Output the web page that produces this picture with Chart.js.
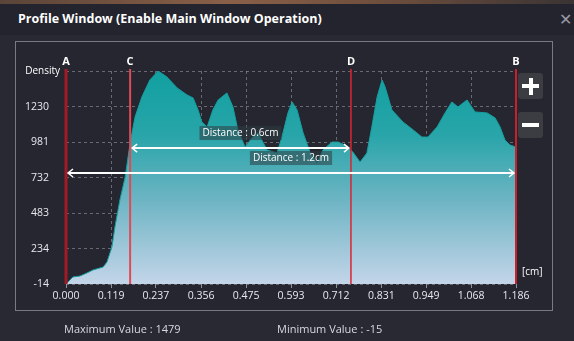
<!DOCTYPE html>
<html>
<head>
<meta charset="utf-8">
<script src="https://cdn.jsdelivr.net/npm/chart.js@4"></script>
<style>
  body { margin: 0; width: 574px; height: 341px; background: #292934; overflow: hidden; position: relative; font-family: 'Open Sans', sans-serif; }
  #topstrip { position: absolute; left: 0; top: 0; width: 574px; height: 4px; background: linear-gradient(90deg, #5a4438, #8a6048 40%, #6a4c3c 70%, #3a3434); }
  #titlebar { position: absolute; left: 0; top: 4px; width: 574px; height: 31px; background: #24242e; }
  #title { position: absolute; left: 18px; top: 10px; color: #fff; font-weight: bold; font-size: 12.5px; }
  #close { position: absolute; left: 559px; top: 8px; color: #9a9aa4; font-size: 16px; }
  #panel { position: absolute; left: 15px; top: 41px; width: 536px; height: 268px; border: 1px solid #7a7a84; background: #262631; }
  canvas { position: absolute; left: 0; top: 0; }
  .btn { position: absolute; left: 518px; width: 25px; height: 26px; background: #3c3c43; border-radius: 3px; }
  .bar { position: absolute; background: #fff; }
  .foot { position: absolute; top: 321px; color: #d8d8de; font-size: 11px; }
</style>
</head>
<body>
<div id="topstrip"></div>
<div id="titlebar"></div>
<div id="title">Profile Window (Enable Main Window Operation)</div>
<div id="close">✕</div>
<div id="panel"></div>
<canvas id="profile" width="574" height="341"></canvas>
<div class="btn" style="top:73px"><div class="bar" style="left:4px;top:11px;width:17px;height:4px"></div><div class="bar" style="left:10.5px;top:4.5px;width:4px;height:17px"></div></div>
<div class="btn" style="top:112px"><div class="bar" style="left:4px;top:11px;width:17px;height:4px"></div></div>
<div class="foot" style="left:64px">Maximum Value : 1479</div>
<div class="foot" style="left:277px">Minimum Value : -15</div>
<script>
// density profile along the cut, position in cm
positions = [0.000, 0.018, 0.037, 0.055, 0.071, 0.098, 0.108, 0.121, 0.129, 0.142,
             0.156, 0.169, 0.182, 0.200, 0.221, 0.243, 0.266, 0.293, 0.319, 0.335,
             0.348, 0.358, 0.372, 0.387, 0.401, 0.424, 0.440, 0.453, 0.472, 0.490,
             0.506, 0.530, 0.556, 0.569, 0.585, 0.596, 0.609, 0.625, 0.643, 0.662,
             0.677, 0.701, 0.717, 0.735, 0.756, 0.775, 0.793, 0.806, 0.820, 0.833,
             0.841, 0.859, 0.888, 0.915, 0.938, 0.954, 0.978, 0.999, 1.017, 1.033,
             1.057, 1.078, 1.110, 1.131, 1.144, 1.157, 1.170, 1.186]
densities = [-15, 35, 42, 63, 84, 105, 140, 245, 386, 575,
             736, 974, 1157, 1297, 1416, 1479, 1437, 1360, 1311, 1290,
             1206, 1122, 1087, 1206, 1276, 1325, 1227, 1066, 946, 1009,
             1045, 925, 904, 1016, 1185, 1262, 1206, 1045, 911, 834,
             925, 981, 981, 960, 911, 841, 904, 1087, 1297, 1416,
             1367, 1206, 1122, 1066, 1016, 1016, 1087, 1185, 1262, 1227,
             1276, 1192, 1185, 1150, 1087, 995, 960, 946]

xTickLabels = ['0.000', '0.119', '0.237', '0.356', '0.475', '0.593', '0.712', '0.831', '0.949', '1.068', '1.186']
yTickValues = [-14, 234, 483, 732, 981, 1230, 1479]
yTickLabels = ['-14', '234', '483', '732', '981', '1230', '']

// cursors A..D (cm) and the two measurements between them
markerNames = ['A', 'C', 'D', 'B']
markerPos = [0.000, 0.169, 0.751, 1.186]
markerColors = ['#a31a24', '#e04a55', '#dc2430', '#cc1f2a']
markerWidths = [3, 2, 1.5, 2]
measureFrom = ['C', 'A']
measureTo = ['D', 'B']
measureLevel = [939, 764]
measureText = ['Distance : 0.6cm', 'Distance : 1.2cm']

tickFont = { family: "'Liberation Sans Narrow', 'Open Sans', sans-serif", size: 10.5 }

function arrowHead(c, x, y, dir) {
    c.beginPath()
    c.moveTo(x - dir * 5, y - 4)
    c.lineTo(x, y)
    c.lineTo(x - dir * 5, y + 4)
    c.stroke()
}

const cursors = {
    id: 'cursors',
    afterDatasetsDraw(chart) {
        const c = chart.ctx
        const xs = chart.scales.x, ys = chart.scales.y
        const area = chart.chartArea
        c.save()
        for (let i = 0; i < markerNames.length; i++) {
            const px = xs.getPixelForValue(markerPos[i])
            c.strokeStyle = markerColors[i]
            c.lineWidth = markerWidths[i]
            c.beginPath()
            c.moveTo(px, area.top - 2)
            c.lineTo(px, area.bottom)
            c.stroke()
            c.fillStyle = '#fff'
            c.font = "bold 11px 'Open Sans', sans-serif"
            c.textAlign = 'center'
            c.textBaseline = 'middle'
            c.fillText(markerNames[i], px, area.top - 9)
        }
        for (let i = 0; i < measureText.length; i++) {
            const x1 = xs.getPixelForValue(markerPos[markerNames.indexOf(measureFrom[i])]) + 2
            const x2 = xs.getPixelForValue(markerPos[markerNames.indexOf(measureTo[i])]) - 2
            const py = ys.getPixelForValue(measureLevel[i])
            c.strokeStyle = '#fff'
            c.lineWidth = 2
            c.beginPath()
            c.moveTo(x1, py)
            c.lineTo(x2, py)
            c.stroke()
            c.lineWidth = 1.5
            arrowHead(c, x1, py, -1)
            arrowHead(c, x2, py, 1)
            const mid = (x1 + x2) / 2
            c.font = "10px 'Open Sans', sans-serif"
            const w = c.measureText(measureText[i]).width + 6
            c.fillStyle = 'rgba(45, 60, 66, 0.55)'
            c.fillRect(mid - w / 2, py - 22, w, 14)
            c.fillStyle = '#fff'
            c.fillText(measureText[i], mid, py - 15)
        }
        c.fillStyle = '#fff'
        c.font = "10px 'Open Sans', sans-serif"
        c.textAlign = 'right'
        c.fillText('Density', area.left - 6, area.top)
        c.textAlign = 'left'
        c.fillText('[cm]', area.right + 6, area.bottom - 12)
        c.restore()
    }
}

ctx = document.getElementById('profile')
config = {
    type: 'line',
    data: {
        datasets: [{
            data: positions.map((p, i) => ({ x: p, y: densities[i] })),
            fill: 'start',
            borderColor: '#15a0a0',
            borderWidth: 1,
            pointRadius: 0,
            tension: 0,
            backgroundColor: function (context) {
                const area = context.chart.chartArea
                if (!area) return '#2aa5a8'
                const g = context.chart.ctx.createLinearGradient(0, area.top, 0, area.bottom)
                g.addColorStop(0, '#11a0a0')
                g.addColorStop(0.3, '#28a5a9')
                g.addColorStop(0.6, '#6cb4c3')
                g.addColorStop(1, '#c4d5e9')
                return g
            }
        }]
    },
    options: {
        responsive: false,
        animation: false,
        devicePixelRatio: 1,
        layout: { padding: { top: 71, right: 58, left: 0, bottom: 0 } },
        plugins: { legend: { display: false }, tooltip: { enabled: false } },
        scales: {
            x: {
                type: 'linear',
                min: 0,
                max: 1.186,
                afterFit: function (scale) { scale.height = 57 },
                afterBuildTicks: function (scale) {
                    scale.ticks = xTickLabels.map(t => ({ value: parseFloat(t) }))
                },
                ticks: {
                    color: '#e8e8ee',
                    font: tickFont,
                    padding: 2,
                    maxRotation: 0,
                    callback: function (v, i) { return xTickLabels[i] }
                },
                grid: { color: 'rgba(150, 150, 162, 0.6)', tickLength: 4, tickColor: 'rgba(170,170,180,0.8)' },
                border: { display: false, dash: [3, 3] }
            },
            y: {
                min: -14,
                max: 1479,
                afterFit: function (scale) { scale.width = 66 },
                afterBuildTicks: function (scale) {
                    scale.ticks = yTickValues.map(v => ({ value: v }))
                },
                ticks: {
                    color: '#e8e8ee',
                    font: tickFont,
                    padding: 17,
                    callback: function (v, i) { return yTickLabels[i] }
                },
                grid: { color: 'rgba(150, 150, 162, 0.6)', tickLength: 0 },
                border: { display: false, dash: [3, 3] }
            }
        }
    },
    plugins: [cursors]
}
new Chart(ctx, config)
</script>
</body>
</html>
